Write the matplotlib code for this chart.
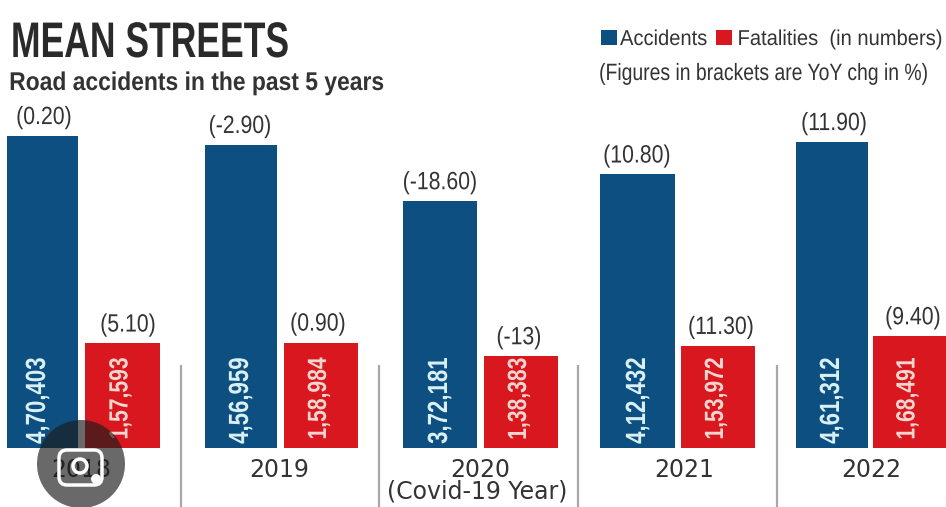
import matplotlib
matplotlib.use('Agg')
import matplotlib.pyplot as plt
from matplotlib.patches import Circle, FancyBboxPatch
from matplotlib.patheffects import AbstractPathEffect
from matplotlib.transforms import Affine2D

plt.rcParams['font.family'] = ['Liberation Sans', 'DejaVu Sans']

years = ['2018', '2019', '2020', '2021', '2022']
accidents = [470403, 456959, 372181, 412432, 461312]
fatalities = [157593, 158984, 138383, 153972, 168491]
accident_labels = ['4,70,403', '4,56,959', '3,72,181', '4,12,432', '4,61,312']
fatality_labels = ['1,57,593', '1,58,984', '1,38,383', '1,53,972', '1,68,491']
accident_chg = ['(0.20)', '(-2.90)', '(-18.60)', '(10.80)', '(11.90)']
fatality_chg = ['(5.10)', '(0.90)', '(-13)', '(11.30)', '(9.40)']

blue = '#0d4f80'
red = '#d8171f'
grey = '#333333'

W, H = 946, 507
base_y = 448
px_per_unit = 312 / 470403


# the reference uses a condensed face, so squeeze the glyphs along the text direction
class Squeeze(AbstractPathEffect):
    def __init__(self, sx, anchor='center'):
        super().__init__()
        self.sx = sx
        self.anchor = anchor

    def draw_path(self, renderer, gc, tpath, affine, rgbFace=None):
        box = tpath.get_extents()
        x0 = {'left': box.x0, 'center': (box.x0 + box.x1) / 2, 'right': box.x1}[self.anchor]
        squeeze = Affine2D().translate(-x0, 0).scale(self.sx, 1).translate(x0, 0)
        renderer.draw_path(gc, tpath, squeeze + affine, rgbFace)


fig = plt.figure(figsize=(W / 100, H / 100), dpi=100, facecolor='white')

# bars live in data units, the y limits just put zero on the right pixel row
ax = fig.add_axes([0, 0, 1, 1])
ax.set_xlim(0, W)
ax.set_ylim(-(H - base_y) / px_per_unit, base_y / px_per_unit)
ax.axis('off')

# second axes in pixels for text and the decorations
ov = fig.add_axes([0, 0, 1, 1])
ov.set_xlim(0, W)
ov.set_ylim(H, 0)
ov.axis('off')
ov.patch.set_alpha(0)

blue_left = [7, 205, 403, 600, 796]
blue_width = [71, 72, 74, 75, 72]
red_left = [85, 284, 484, 681, 873]
red_width = [75, 74, 74, 74, 73]
ax.bar(blue_left, accidents, width=blue_width, align='edge', color=blue)
ax.bar(red_left, fatalities, width=red_width, align='edge', color=red)

label_mid = 71500
blue_chg_x = [44, 240, 440, 637, 834]
red_chg_x = [128, 318, 519, 721, 913]
blue_label_x = [38, 241, 440, 638, 832]
for i in range(5):
    ax.text(blue_label_x[i], label_mid, accident_labels[i], rotation=90,
            ha='center', va='center', color='#d8f0f5', fontsize=20, fontweight='bold',
            path_effects=[Squeeze(0.8)])
    ax.text(red_left[i] + red_width[i] / 2 - 2, label_mid + 3000, fatality_labels[i], rotation=90,
            ha='center', va='center', color='#f6d5d0', fontsize=19, fontweight='bold',
            path_effects=[Squeeze(0.8)])
    ax.annotate(accident_chg[i], (blue_chg_x[i], accidents[i]), xytext=(0, 5),
                textcoords='offset points', ha='center', va='bottom', color=grey, fontsize=18,
                path_effects=[Squeeze(0.85)])
    ax.annotate(fatality_chg[i], (red_chg_x[i], fatalities[i]), xytext=(0, 5),
                textcoords='offset points', ha='center', va='bottom', color=grey, fontsize=18,
                path_effects=[Squeeze(0.85)])

# year labels under each pair
year_x = [81, 279, 480, 684, 871]
for x, year in zip(year_x, years):
    ov.text(x, 458, year, ha='center', va='top', color=grey, fontsize=17, family='DejaVu Sans')
ov.text(477, 480, '(Covid-19 Year)', ha='center', va='top', color=grey, fontsize=17, family='DejaVu Sans')

# dividers
for x in [181, 379, 578, 777]:
    ov.plot([x, x], [365, H], color='#a8a8a8', lw=1.6, solid_capstyle='butt')

# heading
ov.text(10, 57, 'MEAN STREETS', ha='left', va='baseline', color='#2a2a2a', fontsize=36,
        fontweight='bold', path_effects=[Squeeze(0.71, 'left')])
ov.text(9, 90, 'Road accidents in the past 5 years', ha='left', va='baseline', color=grey,
        fontsize=18.5, fontweight='bold', path_effects=[Squeeze(0.89, 'left')])

# legend
ov.add_patch(plt.Rectangle((601, 30), 16, 15, color=blue, lw=0))
ov.text(620, 45, 'Accidents', ha='left', va='baseline', color=grey, fontsize=15.5,
        path_effects=[Squeeze(0.935, 'left')])
ov.add_patch(plt.Rectangle((716, 30), 16, 15, color=red, lw=0))
ov.text(942, 45, 'Fatalities  (in numbers)', ha='right', va='baseline', color=grey, fontsize=15.5,
        path_effects=[Squeeze(0.936, 'right')])
ov.text(930, 80, '(Figures in brackets are YoY chg in %)', ha='right', va='baseline', color=grey,
        fontsize=17, path_effects=[Squeeze(0.82, 'right')])

# camera badge sitting over the 2018 label
ov.add_patch(Circle((81, 464), 44, color='#1c1c1c', alpha=0.66, lw=0, zorder=5))
ov.add_patch(FancyBboxPatch((59, 450), 43, 35, boxstyle='round,pad=0,rounding_size=8',
                            fill=False, ec='white', lw=2.5, zorder=6))
ov.add_patch(Circle((80, 466), 7, fill=False, ec='white', lw=2.5, zorder=7))
ov.add_patch(Circle((96, 479), 5, color='white', lw=0, zorder=7))

fig.savefig('out.png', dpi=100)
